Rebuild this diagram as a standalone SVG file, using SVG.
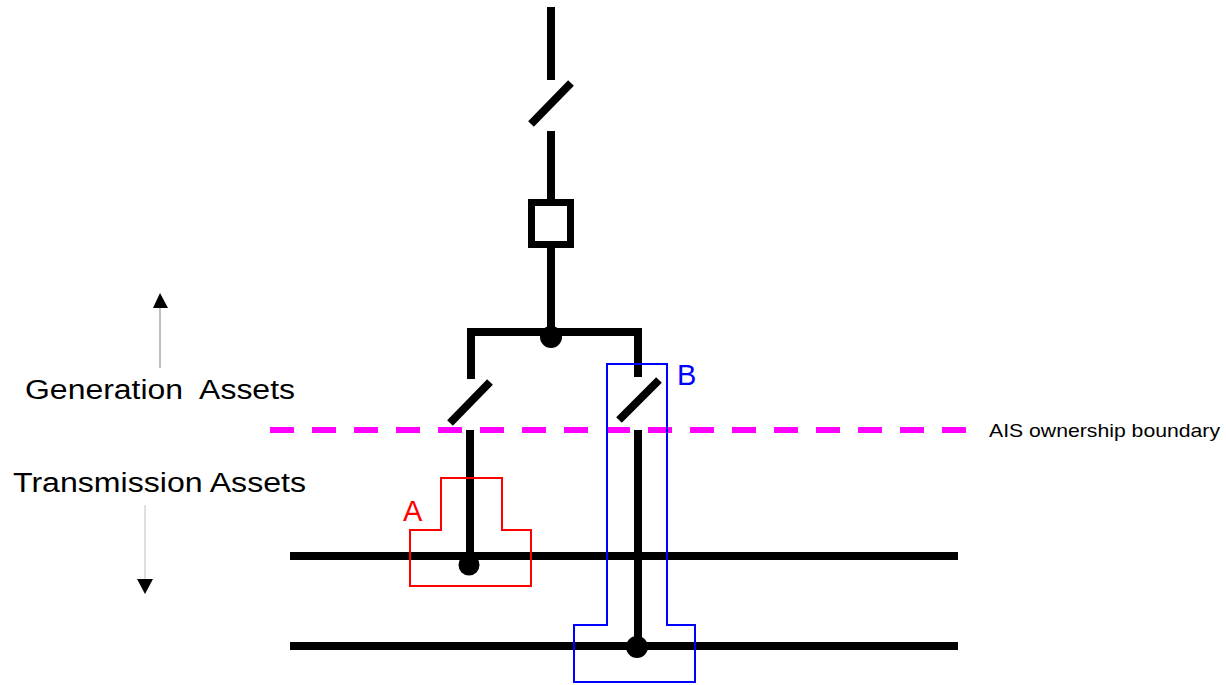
<svg xmlns="http://www.w3.org/2000/svg" width="1226" height="685" viewBox="0 0 1226 685">
<style>
.w{stroke:#000;stroke-width:8;fill:none}
.t{font-family:"Liberation Sans",Arial,sans-serif;fill:#000}
.dot{fill:#000}
</style>
<rect width="1226" height="685" fill="#fff"/>
<g id="connectors">
<line class="w" x1="551" y1="7" x2="551" y2="80"/>
<line class="w" x1="551" y1="131" x2="551" y2="202"/>
<line class="w" x1="551" y1="246" x2="551" y2="334"/>
<polyline class="w" points="471,379 471,332 638,332 638,377"/>
<line class="w" x1="470" y1="430" x2="470" y2="565"/>
<line class="w" x1="638" y1="430" x2="638" y2="646"/>
<line class="w" x1="290" y1="556" x2="958" y2="556"/>
<line class="w" x1="290" y1="646" x2="958" y2="646"/>
</g>
<g id="switch-top"><line class="w" x1="531" y1="124" x2="571" y2="83"/></g>
<g id="breaker"><rect x="531.5" y="202.5" width="39" height="42" fill="#fff" stroke="#000" stroke-width="7"/></g>
<g id="junction"><circle class="dot" cx="551" cy="337" r="11"/></g>
<g id="switch-left"><line class="w" x1="450" y1="423" x2="490" y2="382"/></g>
<g id="switch-right"><line class="w" x1="619" y1="420" x2="659" y2="380"/></g>
<g id="dot-a"><circle class="dot" cx="469" cy="565" r="10.5"/></g>
<g id="dot-b"><circle class="dot" cx="637" cy="647" r="11"/></g>
<g id="boundary"><line x1="270" y1="430" x2="966" y2="430" stroke="#ff00ff" stroke-width="6" stroke-dasharray="24 18"/>
<text class="t" x="989" y="437" font-size="19" textLength="231" lengthAdjust="spacingAndGlyphs">AIS ownership boundary</text></g>
<g id="zone-a"><polygon points="441,478 502,478 502,530 531,530 531,586 410,586 410,530 441,530" fill="none" stroke="#ff0000" stroke-width="2"/>
<text x="403" y="521" font-size="29" font-family="Liberation Sans,Arial,sans-serif" fill="#ff0000">A</text></g>
<g id="zone-b"><polygon points="607,364 667,364 667,625 695,625 695,682 574,682 574,625 607,625" fill="none" stroke="#0000ff" stroke-width="2"/>
<text x="677" y="385" font-size="29" font-family="Liberation Sans,Arial,sans-serif" fill="#0000ff">B</text></g>
<g id="gen-label"><line x1="160" y1="368" x2="160" y2="306" stroke="#808080" stroke-width="1"/>
<polygon points="160,293 153,308 168,308" fill="#000"/>
<text class="t" x="25" y="399" font-size="27" textLength="270" lengthAdjust="spacingAndGlyphs" xml:space="preserve" style="white-space:pre">Generation  Assets</text></g>
<g id="trans-label"><line x1="145" y1="505" x2="145" y2="581" stroke="#c0c0c0" stroke-width="1"/>
<polygon points="145,594 137,579 153,579" fill="#000"/>
<text class="t" x="13" y="492" font-size="27" textLength="293" lengthAdjust="spacingAndGlyphs">Transmission Assets</text></g>
</svg>
